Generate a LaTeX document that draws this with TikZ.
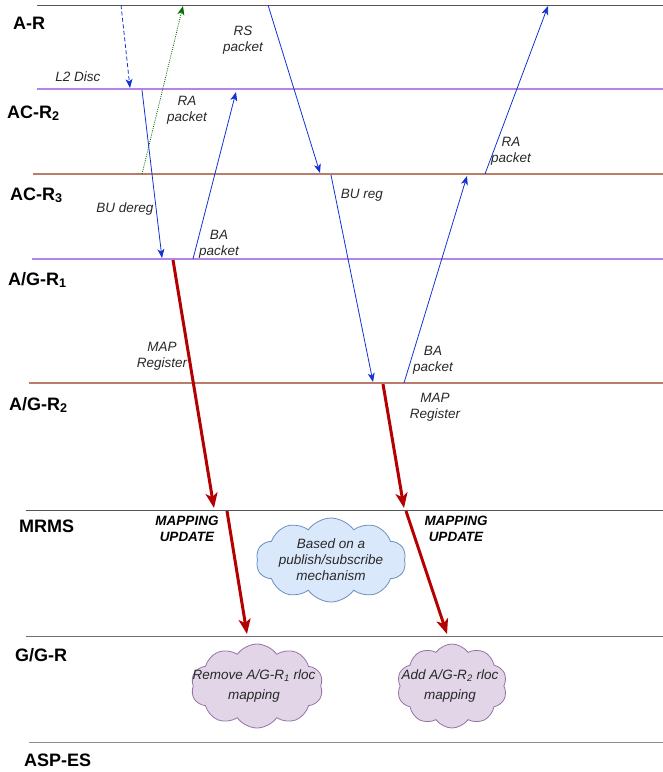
\documentclass[tikz,border=0pt]{standalone}
\usepackage{fontspec}
\setmainfont{Liberation Sans}
\usetikzlibrary{arrows.meta,shapes.symbols}
\definecolor{lanedark}{RGB}{85,85,85}
\definecolor{lanegray}{RGB}{110,110,110}
\definecolor{lanelight}{RGB}{140,140,140}
\definecolor{lanepurple}{RGB}{182,132,232}
\definecolor{lanebrown}{RGB}{185,125,105}
\definecolor{msgblue}{RGB}{20,50,210}
\definecolor{msggreen}{RGB}{0,110,0}
\definecolor{msgred}{RGB}{180,0,0}
\definecolor{labtext}{RGB}{40,40,40}
\definecolor{cloudblue}{RGB}{218,232,252}
\definecolor{cloudblueb}{RGB}{108,142,191}
\definecolor{cloudpurple}{RGB}{225,213,231}
\definecolor{cloudpurpleb}{RGB}{150,115,166}
\tikzset{
  lanelab/.style={anchor=base west, inner sep=0pt, font=\fontsize{18}{20}\selectfont\bfseries},
  msglab/.style={align=center, inner sep=0pt, text=labtext, font=\fontsize{13.5}{16}\selectfont\itshape},
  mapuplab/.style={align=center, inner sep=0pt, text=black, font=\fontsize{13.5}{16}\selectfont\bfseries\itshape},
  bluearr/.style={draw=msgblue, line width=0.8pt, -{Stealth[length=9pt,width=7pt,inset=2.5pt]}},
  greenarr/.style={draw=msggreen, line width=0.8pt, dash pattern=on 1pt off 1.2pt, -{Stealth[length=9pt,width=7pt,inset=2.5pt]}},
  redarr/.style={draw=msgred, line width=3pt, -{Stealth[length=15pt,width=12pt,inset=4pt]}},
  cloudbox/.style={cloud, cloud puffs=10, cloud puff arc=110, cloud ignores aspect, inner sep=0pt, line width=0.8pt},
}
\begin{document}
\begin{tikzpicture}[x=1pt,y=-1pt]
\useasboundingbox (0,0) rectangle (663,772);
% lanes
\coordinate (arL) at (37,5);   \coordinate (arR) at (663,5);
\coordinate (ac2L) at (37,89); \coordinate (ac2R) at (663,89);
\coordinate (ac3L) at (33,174); \coordinate (ac3R) at (663,174);
\coordinate (ag1L) at (32,259); \coordinate (ag1R) at (663,259);
\coordinate (ag2L) at (29,383); \coordinate (ag2R) at (663,383);
\coordinate (mrL) at (26,510); \coordinate (mrR) at (663,510);
\coordinate (ggL) at (26,636); \coordinate (ggR) at (663,636);
\coordinate (esL) at (29,742); \coordinate (esR) at (663,742);
\draw[lanedark, line width=1pt] (arL) -- (arR);
\draw[lanepurple, line width=2pt] (ac2L) -- (ac2R);
\draw[lanebrown, line width=1.5pt] (ac3L) -- (ac3R);
\draw[lanepurple, line width=2pt] (ag1L) -- (ag1R);
\draw[lanebrown, line width=1.2pt] (ag2L) -- (ag2R);
\draw[lanedark, line width=1pt] (mrL) -- (mrR);
\draw[lanegray, line width=1pt] (ggL) -- (ggR);
\draw[lanelight, line width=1pt] (esL) -- (esR);
% lane labels
\node[lanelab] (tAR) at (13,29) {A-R};
\node[lanelab] (tAC2) at (7,118) {AC-R\textsubscript{2}};
\node[lanelab] (tAC3) at (10,200) {AC-R\textsubscript{3}};
\node[lanelab] (tAG1) at (8,285) {A/G-R\textsubscript{1}};
\node[lanelab] (tAG2) at (9,410) {A/G-R\textsubscript{2}};
\node[lanelab] (tMR) at (19,532) {MRMS};
\node[lanelab] (tGG) at (15,661) {G/G-R};
\node[lanelab] (tES) at (24,766) {ASP-ES};
% message end points
\coordinate (l2s) at (121,5);   \coordinate (l2e) at (130,88);
\coordinate (grs) at (142,174); \coordinate (gre) at (183,6);
\coordinate (bds) at (142,90);  \coordinate (bde) at (162,258);
\coordinate (bas) at (193,259); \coordinate (bae) at (236,92);
\coordinate (rss) at (268,5);   \coordinate (rse) at (320,173);
\coordinate (brs) at (331,175); \coordinate (bre) at (373,382);
\coordinate (b2s) at (404,383); \coordinate (b2e) at (467,176);
\coordinate (r2s) at (485,174); \coordinate (r2e) at (548,6);
\coordinate (m1s) at (173,260); \coordinate (m1e) at (214,508);
\coordinate (u1s) at (227,511); \coordinate (u1e) at (247,634);
\coordinate (m2s) at (383,384); \coordinate (m2e) at (404,508);
\coordinate (u2s) at (406,511); \coordinate (u2e) at (447,634);
% messages
\draw[bluearr, dash pattern=on 4pt off 2.5pt] (l2s) -- (l2e);
\draw[greenarr] (grs) -- (gre);
\draw[bluearr] (bds) -- (bde);
\draw[bluearr] (bas) -- (bae);
\draw[bluearr] (rss) -- (rse);
\draw[bluearr] (brs) -- (bre);
\draw[bluearr] (b2s) -- (b2e);
\draw[bluearr] (r2s) -- (r2e);
\draw[redarr] (m1s) -- (m1e);
\draw[redarr] (u1s) -- (u1e);
\draw[redarr] (m2s) -- (m2e);
\draw[redarr] (u2s) -- (u2e);
% message labels
\node[msglab] (lL2) at (78,77) {L2 Disc};
\node[msglab] (lRS) at (243,40) {RS\\packet};
\node[msglab] (lRA1) at (187,110) {RA\\packet};
\node[msglab] (lBUd) at (125,209) {BU dereg};
\node[msglab] (lBA1) at (219,244) {BA\\packet};
\node[msglab] (lRA2) at (511,151) {RA\\packet};
\node[msglab] (lBUr) at (362,195) {BU reg};
\node[msglab] (lMR1) at (162,356) {MAP\\Register};
\node[msglab] (lBA2) at (433,360) {BA\\packet};
\node[msglab] (lMR2) at (435,407) {MAP\\Register};
\node[mapuplab] (lMU1) at (187,529) {MAPPING\\UPDATE};
\node[mapuplab] (lMU2) at (456,529) {MAPPING\\UPDATE};
% clouds
\node[cloudbox, fill=cloudblue, draw=cloudblueb, minimum width=150pt, minimum height=84pt] (cB) at (331,560) {};
\node[msglab] (cBt) at (331,560) {Based on a\\publish/subscribe\\mechanism};
\node[cloudbox, fill=cloudpurple, draw=cloudpurpleb, minimum width=132pt, minimum height=84pt] (cP1) at (257,686) {};
\node[msglab] (cP1t) at (254,686) {Remove A/G-R\textsubscript{1} rloc\\[4pt]mapping};
\node[cloudbox, fill=cloudpurple, draw=cloudpurpleb, minimum width=110pt, minimum height=84pt] (cP2) at (452,686) {};
\node[msglab] (cP2t) at (450,686) {Add A/G-R\textsubscript{2} rloc\\[4pt]mapping};
\end{tikzpicture}
\end{document}
